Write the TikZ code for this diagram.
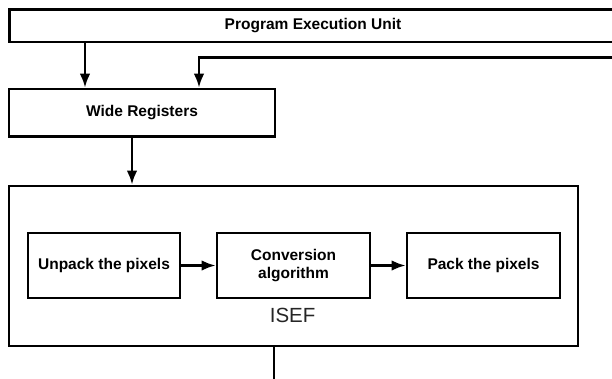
\documentclass[tikz,border=0pt]{standalone}
\usepackage{fontspec}
\setmainfont{Liberation Sans}
\usetikzlibrary{positioning, arrows.meta}

\begin{document}
\begin{tikzpicture}[x=1pt, y=-1pt,
box/.style = {% framed blocks
    draw, line width=2.7pt, inner sep=2pt, align=center,
    font=\fontsize{15.5}{17.5}\selectfont\bfseries,
            },
arr/.style = {% connectors
    line width=2.4pt, -{Latex[length=14pt,width=10.5pt]},
            },
node distance = 34.3pt,
                        ]
\useasboundingbox (0,0) rectangle (612,378);
\clip (0,0) rectangle (612,378);
% top blocks
\node[box, minimum width=607pt, minimum height=32.5pt] (peu) at (313,25.75) {Program Execution Unit};
\node[box, minimum width=266pt, minimum height=47.5pt] (wr) at (142,112.8) {Wide Registers};
% ISEF frame
\node[box, minimum width=569pt, minimum height=160pt] (isef) at (293.5,266) {};
% inner blocks
\node[box, minimum width=152pt, minimum height=65pt] (unpack) at (104,265.5) {Unpack the pixels};
\node[box, minimum width=153pt, minimum height=65pt, right=of unpack] (conv) {Conversion\\algorithm};
\node[box, minimum width=153pt, minimum height=65pt, right=of conv] (pack) {Pack the pixels};
\node[font=\fontsize{20.5}{22}\selectfont, text=black!85, inner sep=0pt] (lbl) at (292.6,315) {ISEF};
% free ends
\coordinate (fb) at (620,57.5);
\coordinate (out) at (274,390);
% connectors
\draw[arr] ([xshift=-57pt]wr.north |- peu.south) -- ([xshift=-57pt]wr.north);
\draw[arr] (fb) -| ([xshift=57pt]wr.north);
\draw[arr] ([xshift=-10pt]wr.south) -- ([xshift=-10pt]wr.south |- isef.north);
\draw[arr] (unpack) -- (conv);
\draw[arr] (conv) -- (pack);
\draw[line width=2.4pt] (out |- isef.south) -- (out);
\end{tikzpicture}
\end{document}
